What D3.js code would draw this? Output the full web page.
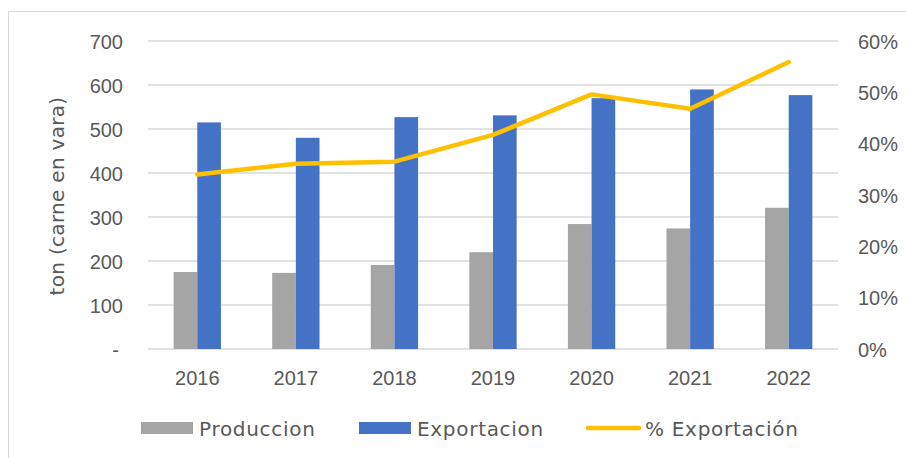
<!DOCTYPE html>
<html>
<head>
<meta charset="utf-8">
<script src="https://cdn.jsdelivr.net/npm/d3@7"></script>
<style>
  body { margin: 0; background: #fff; }
  svg { display: block; font-family: "DejaVu Sans", sans-serif; }
  .tick text { fill: #595959; }
</style>
</head>
<body>
<div id="chart"></div>
<script>
var years = ["2016", "2017", "2018", "2019", "2020", "2021", "2022"];
var produccion = [175, 173, 191, 220, 284, 274, 321];
var exportacion = [515, 480, 527, 531, 570, 590, 577];
var pctExport = [0.340, 0.361, 0.365, 0.417, 0.496, 0.468, 0.559];
var leftTicks = [0, 100, 200, 300, 400, 500, 600, 700];
var rightTicks = [0, 0.1, 0.2, 0.3, 0.4, 0.5, 0.6];

var width = 906, height = 458;
var colors = { prod: "#a5a5a5", exp: "#4472c4", pct: "#ffc000" };

var svg = d3.select("#chart").append("svg")
  .attr("width", width)
  .attr("height", height);

// outer chart border (cropped on right and bottom)
svg.append("rect")
  .attr("x", 8.5).attr("y", 11.5)
  .attr("width", 920).attr("height", 470)
  .attr("fill", "none")
  .attr("stroke", "#d9d9d9");

var x = d3.scaleBand().domain(years).range([148, 838]);
var y = d3.scaleLinear().domain([0, 700]).range([349, 41]);
var y2 = d3.scaleLinear().domain([0, 0.6]).range([349, 41]);
var xs = d3.scaleBand().domain(["prod", "exp"])
  .range([x.bandwidth() * 0.26, x.bandwidth() * 0.74]);

// gridlines
svg.append("g")
  .selectAll("line")
  .data(leftTicks)
  .join("line")
  .attr("x1", 148).attr("x2", 838)
  .attr("y1", d => y(d)).attr("y2", d => y(d))
  .attr("stroke", "#d9d9d9")
  .attr("stroke-width", 1.5);

// left axis
var gl = svg.append("g")
  .attr("transform", "translate(148,0)")
  .call(d3.axisLeft(y).tickValues(leftTicks).tickSize(0).tickPadding(25)
    .tickFormat(d => d === 0 ? "-" : d));
gl.select(".domain").remove();
gl.selectAll("text").style("font-size", "20px").attr("dy", "0.35em");
gl.selectAll(".tick").filter(d => d === 0).select("text").attr("dx", -4);

// right axis
var gr = svg.append("g")
  .attr("transform", "translate(838,0)")
  .call(d3.axisRight(y2).tickValues(rightTicks).tickSize(0).tickPadding(20)
    .tickFormat(d3.format(".0%")));
gr.select(".domain").remove();
gr.selectAll("text").style("font-size", "20px").attr("dy", "0.35em");

// x axis
var gx = svg.append("g")
  .attr("transform", "translate(0,349)")
  .call(d3.axisBottom(x).tickSize(0).tickPadding(22));
gx.select(".domain").remove();
gx.selectAll("text").style("font-size", "20px");

// y axis title
svg.append("text")
  .attr("transform", "translate(64,196) rotate(-90)")
  .attr("text-anchor", "middle")
  .attr("fill", "#595959")
  .style("font-size", "20px")
  .style("letter-spacing", "0.3px")
  .text("ton (carne en vara)");

// bars
var groups = svg.append("g").selectAll("g")
  .data(years)
  .join("g")
  .attr("transform", d => "translate(" + x(d) + ",0)");

groups.append("rect")
  .attr("x", xs("prod"))
  .attr("width", xs.bandwidth())
  .attr("y", (d, i) => y(produccion[i]))
  .attr("height", (d, i) => y(0) - y(produccion[i]))
  .attr("fill", colors.prod);

groups.append("rect")
  .attr("x", xs("exp"))
  .attr("width", xs.bandwidth())
  .attr("y", (d, i) => y(exportacion[i]))
  .attr("height", (d, i) => y(0) - y(exportacion[i]))
  .attr("fill", colors.exp);

// % line
var line = d3.line()
  .x((d, i) => x(years[i]) + x.bandwidth() / 2)
  .y(d => y2(d));

svg.append("path")
  .datum(pctExport)
  .attr("d", line)
  .attr("fill", "none")
  .attr("stroke", colors.pct)
  .attr("stroke-width", 4.5)
  .attr("stroke-linecap", "round")
  .attr("stroke-linejoin", "round");

// legend
var legend = svg.append("g").attr("class", "legend");
legend.append("rect").attr("x", 141).attr("y", 422).attr("width", 52).attr("height", 12).attr("fill", colors.prod);
legend.append("text").attr("x", 199).attr("y", 436).text("Produccion");
legend.append("rect").attr("x", 359).attr("y", 422).attr("width", 52).attr("height", 12).attr("fill", colors.exp);
legend.append("text").attr("x", 417).attr("y", 436).text("Exportacion");
legend.append("line").attr("x1", 588).attr("x2", 639).attr("y1", 428).attr("y2", 428)
  .attr("stroke", colors.pct).attr("stroke-width", 4.5).attr("stroke-linecap", "round");
legend.append("text").attr("x", 645).attr("y", 436).text("% Exportación");
legend.selectAll("text")
  .attr("fill", "#595959")
  .style("font-size", "20px")
  .style("letter-spacing", "0.7px");
</script>
</body>
</html>
